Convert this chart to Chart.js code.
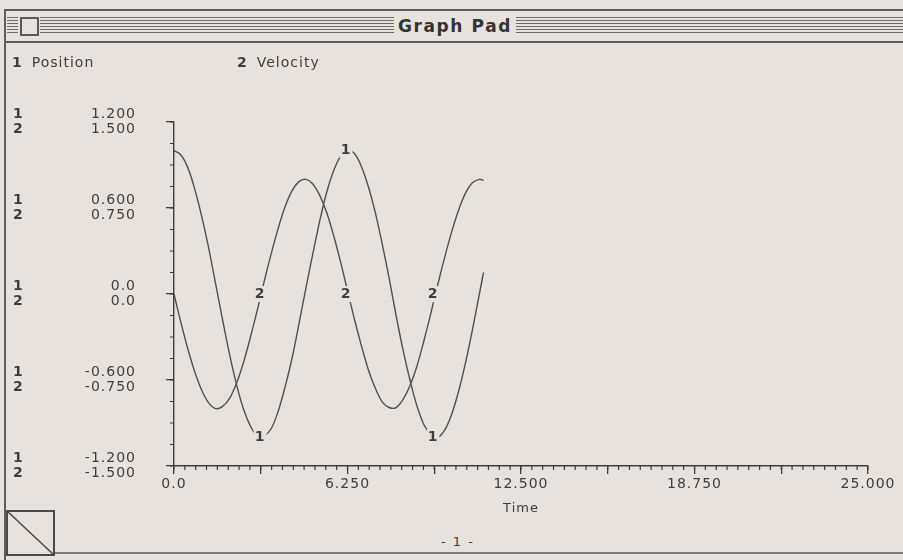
<!DOCTYPE html>
<html>
<head>
<meta charset="utf-8">
<title>Graph Pad</title>
<script src="https://cdn.jsdelivr.net/npm/chart.js@4.4.1/dist/chart.umd.min.js"></script>
<style>
  html, body { margin: 0; padding: 0; background: #e7e2de; }
  #win { position: relative; width: 903px; height: 560px; overflow: hidden; background: #e7e2de;
         font-family: "DejaVu Sans", sans-serif; color: #363636; }
  #plot { position: absolute; left: 0; top: 0; }
  .rule { position: absolute; background: #5e5e5e; }
  .stripes { position: absolute; top: 17px; height: 18px;
             background: repeating-linear-gradient(to bottom, #6c6c6c 0 1px, transparent 1px 3px); }
  .close-box { position: absolute; left: 20px; top: 17px; width: 15px; height: 15px;
               border: 2px solid #5a5a5a; background: #e7e2de; }
  .title { position: absolute; left: 394px; top: 15px; width: 122px; text-align: center;
           font-weight: bold; font-size: 17px; line-height: 22px; letter-spacing: 1.6px;
           background: #e7e2de; color: #333; }
  .curl { position: absolute; left: 5px; top: 509px; }
  .page-no { position: absolute; left: 441px; top: 534px; font-size: 13px; letter-spacing: 1.5px; color: #3c3c3c; }
</style>
</head>
<body>
<div id="win">
  <div class="rule" style="left:4px; top:9px; width:899px; height:2px;"></div>
  <div class="rule" style="left:4px; top:9px; width:2px; height:551px;"></div>
  <div class="stripes" style="left:7px; width:11px;"></div>
  <div class="stripes" style="left:40px; width:863px;"></div>
  <div class="close-box"></div>
  <div class="title">Graph Pad</div>
  <div class="rule" style="left:4px; top:41px; width:899px; height:2px;"></div>
  <div class="rule" style="left:54px; top:552px; width:849px; height:2px; background:#7a7a7a;"></div>
  <svg class="curl" width="52" height="50" viewBox="0 0 52 50">
    <rect x="2" y="2" width="47" height="44" fill="none" stroke="#4a4a4a" stroke-width="2"/>
    <line x1="2" y1="2" x2="49" y2="46" stroke="#4a4a4a" stroke-width="1.6"/>
  </svg>
  <div class="page-no">- 1 -</div>
  <canvas id="plot" width="903" height="560"></canvas>
</div>
<script>
const INK = "#3e3e3e";
const BG = "#e7e2de";
const FONT = '"DejaVu Sans", sans-serif';

// sampled run: time, position (series 1), velocity (series 2)
const timeValues = [
  0, 0.25, 0.5, 0.75, 1, 1.25, 1.5, 1.75, 2, 2.25, 2.5, 2.75,
  3, 3.25, 3.5, 3.75, 4, 4.25, 4.5, 4.75, 5, 5.25, 5.5, 5.75,
  6, 6.25, 6.5, 6.75, 7, 7.25, 7.5, 7.75, 8, 8.25, 8.5, 8.75,
  9, 9.25, 9.5, 9.75, 10, 10.25, 10.5, 10.75, 11, 11.15
];
const positionValues = [
  1.00, 0.97, 0.88, 0.73, 0.54, 0.32, 0.07, -0.18, -0.42, -0.63, -0.80, -0.92,
  -0.99, -0.99, -0.94, -0.82, -0.65, -0.45, -0.21, 0.04, 0.28, 0.51, 0.71, 0.86,
  0.96, 1.00, 0.98, 0.89, 0.75, 0.57, 0.35, 0.11, -0.15, -0.39, -0.60, -0.78,
  -0.91, -0.98, -1.00, -0.95, -0.84, -0.68, -0.48, -0.25, 0.00, 0.15
];
const velocityValues = [
  0.00, -0.25, -0.48, -0.68, -0.84, -0.95, -1.00, -0.98, -0.91, -0.78, -0.60, -0.38,
  -0.14, 0.11, 0.35, 0.57, 0.76, 0.90, 0.98, 1.00, 0.96, 0.86, 0.71, 0.51,
  0.28, 0.03, -0.22, -0.45, -0.66, -0.82, -0.94, -0.99, -0.99, -0.92, -0.80, -0.63,
  -0.41, -0.17, 0.08, 0.32, 0.54, 0.73, 0.88, 0.97, 1.00, 0.99
];

// axis labels: each left tick shows series 1 over series 2
const timeTicks = ["0.0", "6.250", "12.500", "18.750", "25.000"];
const positionTicks = ["-1.200", "-0.600", "0.0", "0.600", "1.200"];
const velocityTicks = ["-1.500", "-0.750", "0.0", "0.750", "1.500"];

// where the series numbers are written on the curves
const markTimes = [3.1, 6.2, 9.33];
const markPosition = [-1.0, 1.0, -1.0];
const markVelocity = [0, 0, 0];

const xMinorStep = 0.390625;
const yMinorStep = 0.15;
const legendX = [12, 237];

function tag(ctx, text, px, py) {
  ctx.font = "bold 14px " + FONT;
  const w = ctx.measureText(text).width;
  ctx.fillStyle = BG;
  ctx.fillRect(px - w / 2 - 1, py - 8, w + 2, 16);
  ctx.fillStyle = INK;
  ctx.textAlign = "center";
  ctx.textBaseline = "middle";
  ctx.fillText(text, px, py);
}

const graphMarks = {
  id: "graphMarks",
  beforeDraw(chart) {
    chart.ctx.letterSpacing = "1px";
  },
  afterDraw(chart) {
    const { ctx } = chart;
    const { x, y, y2 } = chart.scales;
    ctx.save();

    // short minor ticks on both axes
    ctx.strokeStyle = INK;
    ctx.lineWidth = 1.2;
    ctx.beginPath();
    for (let v = x.min; v <= x.max + 1e-9; v += xMinorStep) {
      const px = x.getPixelForValue(v);
      ctx.moveTo(px, x.top);
      ctx.lineTo(px, x.top + 4);
    }
    for (let v = y.min; v <= y.max + 1e-9; v += yMinorStep) {
      const py = y.getPixelForValue(v);
      ctx.moveTo(y.right - 4, py);
      ctx.lineTo(y.right, py);
    }
    ctx.stroke();

    // series numbers in front of each tick label pair
    ctx.font = "bold 14px " + FONT;
    ctx.fillStyle = INK;
    ctx.textAlign = "left";
    ctx.textBaseline = "middle";
    y.ticks.forEach((t) => {
      const py = y.getPixelForValue(t.value);
      ctx.fillText("1", 13, py - 7.5);
      ctx.fillText("2", 13, py + 7.5);
    });

    // legend line
    chart.data.datasets.forEach((ds, i) => {
      ctx.font = "bold 14px " + FONT;
      ctx.fillText(String(i + 1), legendX[i], 63);
      const w = ctx.measureText(String(i + 1)).width;
      ctx.font = "14px " + FONT;
      ctx.fillText(ds.label, legendX[i] + w + 9, 63);
    });

    // numbers riding on the curves
    markTimes.forEach((t, i) => {
      const px = x.getPixelForValue(t);
      tag(ctx, "1", px, y.getPixelForValue(markPosition[i]));
      tag(ctx, "2", px, y2.getPixelForValue(markVelocity[i]));
    });

    ctx.restore();
    ctx.letterSpacing = "0px";
  }
};

const axisGrid = {
  drawOnChartArea: false,
  drawTicks: true,
  tickLength: 8,
  color: INK,
  lineWidth: 1.3
};

new Chart(document.getElementById("plot"), {
  type: "line",
  data: {
    datasets: [
      {
        label: "Position",
        data: timeValues.map((t, i) => ({ x: t, y: positionValues[i] })),
        yAxisID: "y"
      },
      {
        label: "Velocity",
        data: timeValues.map((t, i) => ({ x: t, y: velocityValues[i] })),
        yAxisID: "y2"
      }
    ]
  },
  options: {
    responsive: false,
    animation: false,
    devicePixelRatio: 1,
    layout: { padding: { left: 0, top: 122, right: 35, bottom: 42 } },
    elements: {
      line: { borderColor: "#505050", borderWidth: 1.4, tension: 0.35, fill: false },
      point: { radius: 0 }
    },
    plugins: { legend: { display: false }, tooltip: { enabled: false } },
    scales: {
      x: {
        type: "linear",
        min: 0,
        max: 25,
        grid: axisGrid,
        border: { display: true, color: INK, width: 1.4 },
        ticks: {
          stepSize: 3.125,
          autoSkip: false,
          maxRotation: 0,
          padding: 2,
          color: INK,
          font: { family: FONT, size: 14 },
          callback: (v, i) => (i % 2 === 0 ? timeTicks[i / 2] : "")
        },
        title: {
          display: true,
          text: "Time",
          color: INK,
          font: { family: FONT, size: 13 },
          padding: { top: 0, bottom: 2 }
        },
        afterFit: (s) => { s.height = 52; }
      },
      y: {
        type: "linear",
        position: "left",
        min: -1.2,
        max: 1.2,
        grid: axisGrid,
        border: { display: true, color: INK, width: 1.4 },
        ticks: {
          stepSize: 0.6,
          padding: 30,
          color: INK,
          font: { family: FONT, size: 14, lineHeight: 1.07 },
          callback: (v, i) => [positionTicks[i], velocityTicks[i]]
        },
        afterFit: (s) => { s.width = 174; }
      },
      y2: {
        type: "linear",
        display: false,
        min: -1.5,
        max: 1.5
      }
    }
  },
  plugins: [graphMarks]
});
</script>
</body>
</html>
